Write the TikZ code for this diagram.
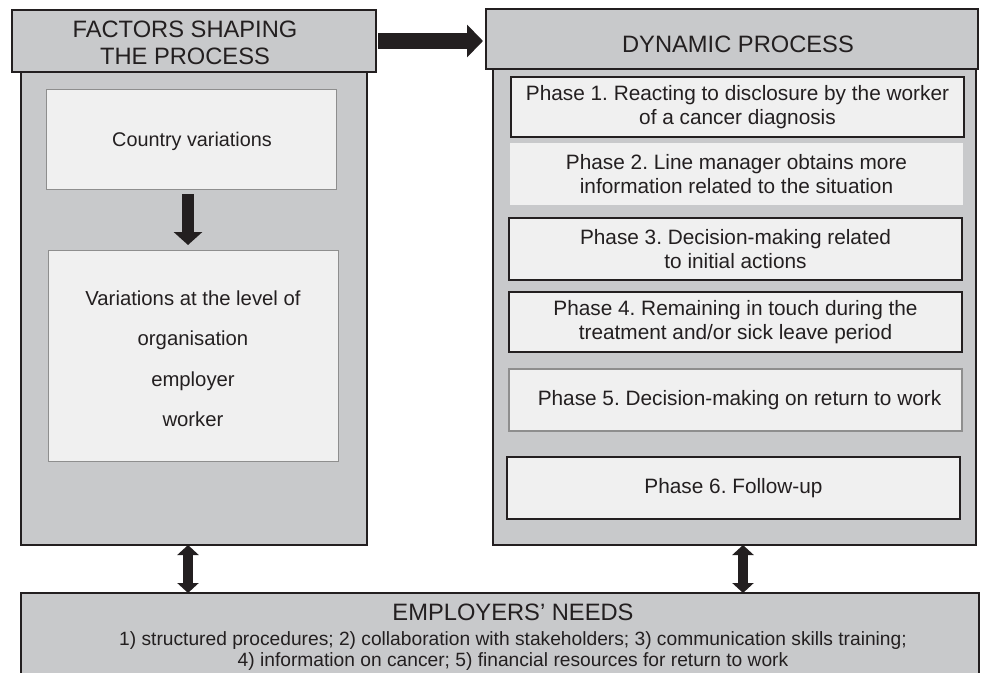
\documentclass[tikz,border=0pt]{standalone}
\usepackage{fontspec}
\setmainfont{Liberation Sans}
\usetikzlibrary{arrows.meta}
\definecolor{panelgray}{HTML}{C8C9CB}
\definecolor{innerfill}{HTML}{F0F0F0}
\definecolor{ink}{HTML}{231F20}
\definecolor{lightedge}{HTML}{8E8E8E}
\tikzset{
  panel/.style={draw=ink, line width=1.4pt, fill=panelgray, anchor=north west, inner sep=0pt, outer sep=0pt},
  headtext/.style={align=center, text=ink, font=\fontsize{23.7}{27}\selectfont},
  leftbox/.style={draw=lightedge, line width=0.9pt, fill=innerfill, anchor=north west, inner sep=0pt, outer sep=0pt},
  leftText/.style={align=center, text=ink, font=\fontsize{20.3}{40.5}\selectfont},
  phasebox/.style={draw=ink, line width=1.1pt, fill=innerfill, anchor=north west, inner sep=0pt, outer sep=0pt, minimum width=453pt},
  phasetext/.style={align=center, text=ink, font=\fontsize{20.8}{24}\selectfont},
  blockarrow/.style={draw=ink, color=ink},
}
\begin{document}
\frenchspacing
\begin{tikzpicture}[x=1pt,y=-1pt]
\useasboundingbox (0,0) rectangle (985,672);
% left column
\node[panel, minimum width=346pt, minimum height=473pt] (lb) at (21,72) {};
\node[panel, minimum width=364pt, minimum height=62pt] (lh) at (12,10) {};
\node[headtext] (lht) at (185,42.5) {FACTORS SHAPING\\THE PROCESS};
\node[leftbox, minimum width=290pt, minimum height=100pt] (cv) at (46,89) {};
\node[leftText, font=\fontsize{19.8}{22}\selectfont] (cvt) at (192,141) {Country variations};
\node[leftbox, minimum width=290pt, minimum height=211pt] (vl) at (48,250) {};
\node[leftText] (vlt) at (193,358.5) {Variations at the level of\\organisation\\employer\\worker};
% right column
\node[panel, minimum width=483pt, minimum height=476pt] (rb) at (493,69) {};
\node[panel, minimum width=492pt, minimum height=60pt] (rh) at (486,9) {};
\node[headtext] (rht) at (738,44) {DYNAMIC PROCESS};
\node[phasebox, minimum height=60pt] (p1) at (511,77) {};
\node[phasetext] (p1t) at (p1.center) {Phase 1. Reacting to disclosure by the worker\\of a cancer diagnosis};
\node[phasebox, draw=none, minimum height=62pt] (p2) at (510,143) {};
\node[phasetext] (p2t) at (p2.center) {Phase 2. Line manager obtains more\\information related to the situation};
\node[phasebox, minimum height=62pt] (p3) at (509,218) {};
\node[phasetext] (p3t) at (p3.center) {Phase 3. Decision-making related\\to initial actions};
\node[phasebox, minimum height=60pt] (p4) at (509,292) {};
\node[phasetext] (p4t) at (p4.center) {Phase 4. Remaining in touch during the\\treatment and/or sick leave period};
\node[phasebox, draw=lightedge, minimum height=62pt] (p5) at (509,369) {};
\node[phasetext] (p5t) at ([xshift=4pt]p5.center) {Phase 5. Decision-making on return to work};
\node[phasebox, minimum height=62pt] (p6) at (507,457) {};
\node[phasetext] (p6t) at (p6.center) {Phase 6. Follow-up};
% bottom
\node[panel, minimum width=958pt, minimum height=95pt] (bn) at (21,593) {};
\node[headtext] (bnt) at (513,612) {EMPLOYERS' NEEDS};
\node[align=center, text=ink, font=\fontsize{19.2}{21}\selectfont] (bnl) at (513,651) {1) structured procedures; 2) collaboration with stakeholders; 3) communication skills training;\\4) information on cancer; 5) financial resources for return to work};
% arrows
\coordinate (la) at (188,0);
\coordinate (ra) at (743,0);
\draw[blockarrow, line width=16pt, shorten <=2pt, shorten >=3pt, -{Triangle[length=16pt,width=32pt]}] (lh.east) -- (rh.west |- lh.east);
\draw[blockarrow, line width=12pt, shorten <=5pt, shorten >=5pt, -{Triangle[length=13pt,width=28pt]}] (cv.south -| la) -- (vl.north -| la);
\draw[blockarrow, line width=10pt, {Triangle[length=10pt,width=21pt]}-{Triangle[length=10pt,width=21pt]}] (lb.south -| la) -- (bn.north -| la);
\draw[blockarrow, line width=10pt, {Triangle[length=10pt,width=21pt]}-{Triangle[length=10pt,width=21pt]}] (rb.south -| ra) -- (bn.north -| ra);
\end{tikzpicture}
\end{document}
